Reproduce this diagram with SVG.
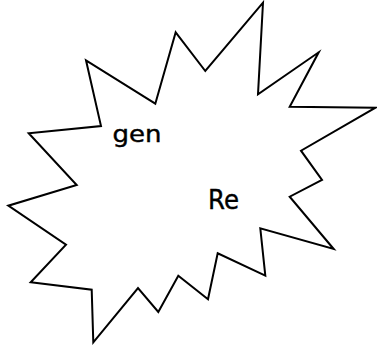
<svg xmlns="http://www.w3.org/2000/svg" width="377" height="349" viewBox="0 0 377 349">
<style>
.burst{fill:#fff;stroke:#000;stroke-width:2;stroke-linejoin:miter;stroke-miterlimit:20}
.lbl{font-family:"DejaVu Sans","Liberation Sans",sans-serif;fill:#000;stroke:#000;stroke-width:0.4}
</style>
<rect width="377" height="349" fill="#fff"/>
<g id="burst">
<polygon class="burst" points="175.7,32.3 205.3,71 263,2.7 258,94.3 318.7,52.3 289.7,106.7 375.5,107.7 301,150.7 322,180 289.7,196.7 333.7,249 260.3,228.3 265.3,275.7 217.7,253.3 208,299.3 178.3,275.7 158.3,312 138,288 93.3,342.3 91.7,289.7 30.7,282.3 66,244.7 8.3,205.7 76.7,185 28.7,133.3 101,126 86,60.3 155.3,103.7"/>
</g>
<g id="label-gen">
<text class="lbl" x="112.5" y="142" font-size="23" textLength="49" lengthAdjust="spacingAndGlyphs">gen</text>
</g>
<g id="label-re">
<text class="lbl" x="208" y="209.3" font-size="26" textLength="31" lengthAdjust="spacingAndGlyphs">Re</text>
</g>
</svg>
